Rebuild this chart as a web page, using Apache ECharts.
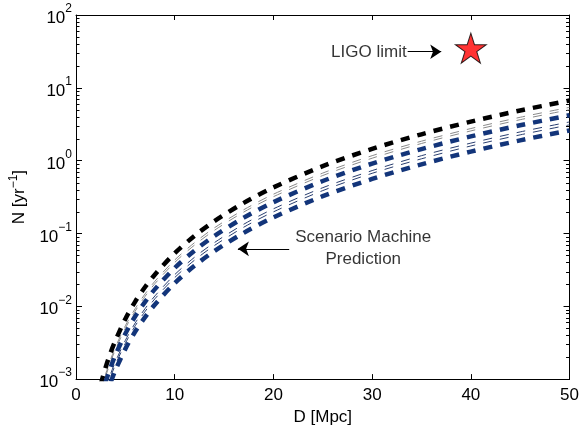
<!DOCTYPE html>
<html><head><meta charset="utf-8">
<script src="https://cdn.jsdelivr.net/npm/echarts/dist/echarts.min.js"></script>
<style>html,body{margin:0;padding:0;background:#fff}#c{width:582px;height:431px}</style>
</head><body><div id="c"></div>
<script>
// Distance D [Mpc] sample points
const distances = [2.5, 3, 3.5, 4, 5, 6, 7, 8, 10, 12, 14, 17, 20, 25, 30, 35, 40, 45, 50];
// N [yr^-1]
const nBlack     = [8.4e-4, 1.45e-3, 2.3e-3, 3.4e-3, 6.7e-3, 0.0116, 0.0184, 0.0274, 0.0536, 0.0926, 0.147, 0.263, 0.429, 0.84, 1.45, 2.3, 3.43, 4.88, 6.7];
const nGray1     = [6.8e-4, 1.17e-3, 1.85e-3, 2.76e-3, 5.4e-3, 9.3e-3, 0.0148, 0.0221, 0.0432, 0.0746, 0.119, 0.212, 0.346, 0.675, 1.17, 1.85, 2.76, 3.94, 5.4];
const nGray2     = [6.3e-4, 1.08e-3, 1.72e-3, 2.56e-3, 5.0e-3, 8.6e-3, 0.0137, 0.0205, 0.04, 0.0691, 0.11, 0.197, 0.32, 0.625, 1.08, 1.72, 2.56, 3.65, 5.0];
const nBlueMid   = [5.3e-4, 9.1e-4, 1.44e-3, 2.15e-3, 4.2e-3, 7.3e-3, 0.0115, 0.0172, 0.0336, 0.058, 0.092, 0.165, 0.269, 0.525, 0.91, 1.44, 2.15, 3.06, 4.2];
const nBlueThin1 = [4.3e-4, 7.3e-4, 1.17e-3, 1.74e-3, 3.4e-3, 5.9e-3, 9.3e-3, 0.0139, 0.0272, 0.047, 0.0746, 0.134, 0.218, 0.425, 0.73, 1.17, 1.74, 2.48, 3.4];
const nBlueThin2 = [3.9e-4, 6.7e-4, 1.06e-3, 1.59e-3, 3.1e-3, 5.4e-3, 8.5e-3, 0.0127, 0.0248, 0.0429, 0.068, 0.122, 0.198, 0.388, 0.67, 1.06, 1.59, 2.26, 3.1];
const nBlueLow   = [3.3e-4, 5.6e-4, 8.9e-4, 1.33e-3, 2.6e-3, 4.5e-3, 7.1e-3, 0.0106, 0.0208, 0.0359, 0.057, 0.102, 0.166, 0.325, 0.56, 0.89, 1.33, 1.9, 2.6];
// LIGO limit point
const ligoPoint = [40, 35];
// x-axis ticks
const xTicks = [0, 10, 20, 30, 40, 50];
// log minor tick values
const yMinorTicks = [0.002,0.003,0.004,0.005,0.006,0.007,0.008,0.009,
  0.02,0.03,0.04,0.05,0.06,0.07,0.08,0.09,
  0.2,0.3,0.4,0.5,0.6,0.7,0.8,0.9,
  2,3,4,5,6,7,8,9,
  20,30,40,50,60,70,80,90];
// annotation texts & arrows
const scenarioText = ['Scenario Machine', 'Prediction'];
const scenarioPos = [29.1, 0.062];
const scenarioArrow = [[21.6, 0.0615], [16.4, 0.0615]];
const ligoText = 'LIGO limit';
const ligoTextPos = [33.5, 31];
const ligoArrow = [[33.6, 31.3], [37.0, 31.3]];

const FONT = "'Liberation Sans', Arial, Helvetica, sans-serif";
const FS = 17;
const BLUE = '#13357a';

const chart = echarts.init(document.getElementById('c'), null, {renderer: 'canvas'});

function curve(name, arr, color, width, z) {
  return {
    name, type: 'line', data: distances.map((d, i) => [d, arr[i]]),
    showSymbol: false, symbol: 'none', smooth: 0.3, z: z,
    lineStyle: {color, width, type: [9, 8], cap: 'butt'},
    clip: true, silent: true, animation: false
  };
}

function supLabel(v) {
  const e = Math.round(Math.log10(v));
  const s = e < 0 ? '\u2212' + (-e) : String(e);
  return '{b|10}{s|' + s + '}';
}

const option = {
  animation: false,
  backgroundColor: '#fff',
  grid: {left: 74, right: 10, top: 15, bottom: 49, containLabel: false},
  xAxis: [{
    type: 'value', min: xTicks[0], max: xTicks[xTicks.length - 1], interval: 10,
    position: 'bottom',
    name: 'D [Mpc]', nameLocation: 'middle', nameGap: 29,
    nameTextStyle: {fontFamily: FONT, fontSize: FS, color: '#000'},
    axisLine: {show: true, onZero: false, lineStyle: {color: '#000', width: 1}},
    axisTick: {show: true, inside: true, length: 5, lineStyle: {color: '#000'}},
    axisLabel: {margin: 8, fontFamily: FONT, fontSize: FS, color: '#000'},
    splitLine: {show: false}
  }, {
    type: 'value', min: 0, max: 50, interval: 10, position: 'top',
    axisLine: {show: true, onZero: false, lineStyle: {color: '#000', width: 1}},
    axisTick: {show: true, inside: true, length: 5, lineStyle: {color: '#000'}},
    axisLabel: {show: false}, splitLine: {show: false}
  }],
  yAxis: [{
    type: 'log', logBase: 10, min: 0.001, max: 100, position: 'left',
    name: '{n|N [yr}{s|\u22121}{n|]}', nameLocation: 'middle', nameGap: 46, nameRotate: 90,
    nameTextStyle: {
      fontFamily: FONT, color: '#000',
      rich: {
        n: {fontFamily: FONT, fontSize: FS, color: '#000', lineHeight: 22},
        s: {fontFamily: FONT, fontSize: 12, color: '#000', verticalAlign: 'top', lineHeight: 22}
      }
    },
    axisLine: {show: true, onZero: false, lineStyle: {color: '#000', width: 1}},
    axisTick: {show: true, inside: true, length: 6, lineStyle: {color: '#000'}},
    axisLabel: {
      margin: 4, formatter: supLabel,
      rich: {
        b: {fontFamily: FONT, fontSize: FS, color: '#000', lineHeight: 24, verticalAlign: 'bottom'},
        s: {fontFamily: FONT, fontSize: 12, color: '#000', lineHeight: 24, verticalAlign: 'top'}
      }
    },
    splitLine: {show: false}
  }, {
    type: 'log', logBase: 10, min: 0.001, max: 100, position: 'right',
    axisLine: {show: true, onZero: false, lineStyle: {color: '#000', width: 1}},
    axisTick: {show: true, inside: true, length: 6, lineStyle: {color: '#000'}},
    axisLabel: {show: false}, splitLine: {show: false}
  }],
  series: [
    {
      name: 'minorTicks', type: 'custom', silent: true, clip: false, z: 1,
      data: yMinorTicks.map(v => [0, v]),
      renderItem: function (params, api) {
        const v = api.value(1);
        const l = api.coord([0, v]);
        const r = api.coord([50, v]);
        const y = Math.round(l[1]) + 0.5;
        return {type: 'group', children: [
          {type: 'line', shape: {x1: l[0], y1: y, x2: l[0] + 3.5, y2: y}, style: {stroke: '#000', lineWidth: 1}},
          {type: 'line', shape: {x1: r[0] - 3.5, y1: y, x2: r[0], y2: y}, style: {stroke: '#000', lineWidth: 1}}
        ]};
      }
    },
    curve('gray1', nGray1, '#8a8a8a', 1, 2),
    curve('gray2', nGray2, '#8a8a8a', 1, 2),
    curve('blueThin1', nBlueThin1, '#2a3f70', 1, 2),
    curve('blueThin2', nBlueThin2, '#2a3f70', 1, 2),
    curve('black', nBlack, '#000', 4.5, 3),
    curve('blueMid', nBlueMid, BLUE, 4.5, 3),
    curve('blueLow', nBlueLow, BLUE, 4.5, 3),
    {
      name: 'LIGO', type: 'scatter', data: [ligoPoint], z: 5,
      symbol: 'path://M50,0 L61.2,34.5 L97.6,34.5 L68.2,55.9 L79.4,90.5 L50,69.1 L20.6,90.5 L31.8,55.9 L2.4,34.5 L38.8,34.5 Z',
      symbolSize: [31, 30], symbolKeepAspect: false,
      itemStyle: {color: '#ff0000', borderColor: '#000', borderWidth: 1}
    },
    {
      name: 'annotations', type: 'scatter', z: 6, symbolSize: 0, silent: true,
      data: [
        {value: scenarioPos, label: {show: true, formatter: scenarioText.join('\n'), position: 'inside', align: 'center', verticalAlign: 'middle', lineHeight: 22}},
        {value: ligoTextPos, label: {show: true, formatter: ligoText, position: 'inside', align: 'right', verticalAlign: 'middle'}}
      ],
      label: {fontFamily: FONT, fontSize: FS, color: '#000'},
      markLine: {
        silent: true, animation: false,
        symbol: ['none', 'arrow'], symbolSize: 11,
        lineStyle: {color: '#000', width: 1, type: 'solid'},
        label: {show: false},
        data: [
          [{coord: scenarioArrow[0]}, {coord: scenarioArrow[1]}],
          [{coord: ligoArrow[0]}, {coord: ligoArrow[1]}]
        ]
      }
    }
  ]
};
chart.setOption(option);
</script>
</body></html>
